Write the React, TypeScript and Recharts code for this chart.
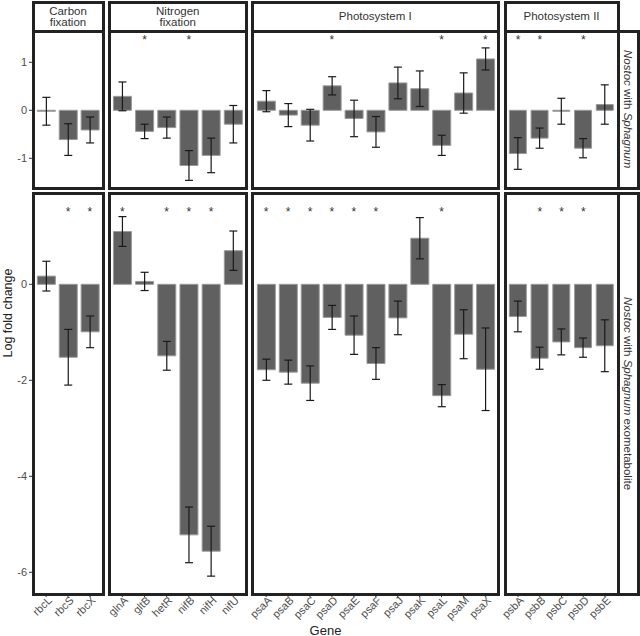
import React from "react";
import { ComposedChart, Bar, ErrorBar, Scatter, XAxis, YAxis } from "recharts";

// gene names per functional group
const carbonGenes = ["rbcL", "rbcS", "rbcX"];
const nitrogenGenes = ["glnA", "gltB", "hetR", "nifB", "nifH", "nifU"];
const ps1Genes = ["psaA", "psaB", "psaC", "psaD", "psaE", "psaF", "psaJ", "psaK", "psaL", "psaM", "psaX"];
const ps2Genes = ["psbA", "psbB", "psbC", "psbD", "psbE"];

// Nostoc with Sphagnum (top row)
const carbonSphagnum = [-0.02, -0.61, -0.41];
const carbonSphagnumErr = [0.29, 0.33, 0.27];
const nitrogenSphagnum = [0.29, -0.44, -0.36, -1.15, -0.94, -0.29];
const nitrogenSphagnumErr = [0.3, 0.15, 0.22, 0.31, 0.36, 0.39];
const ps1Sphagnum = [0.19, -0.1, -0.31, 0.51, -0.17, -0.45, 0.57, 0.45, -0.73, 0.36, 1.07];
const ps1SphagnumErr = [0.22, 0.24, 0.33, 0.19, 0.38, 0.32, 0.33, 0.37, 0.21, 0.42, 0.23];
const ps2Sphagnum = [-0.9, -0.58, -0.02, -0.79, 0.12];
const ps2SphagnumErr = [0.33, 0.21, 0.27, 0.2, 0.41];

// Nostoc with Sphagnum exometabolite (bottom row)
const carbonExo = [0.17, -1.52, -0.99];
const carbonExoErr = [0.31, 0.58, 0.33];
const nitrogenExo = [1.1, 0.06, -1.49, -5.22, -5.56, 0.7];
const nitrogenExoErr = [0.31, 0.19, 0.3, 0.58, 0.52, 0.41];
const ps1Exo = [-1.78, -1.83, -2.06, -0.69, -1.06, -1.65, -0.7, 0.96, -2.32, -1.04, -1.77];
const ps1ExoErr = [0.22, 0.25, 0.36, 0.25, 0.4, 0.33, 0.35, 0.43, 0.23, 0.51, 0.86];
const ps2Exo = [-0.67, -1.54, -1.2, -1.32, -1.28];
const ps2ExoErr = [0.32, 0.23, 0.27, 0.2, 0.54];

// significant genes (marked with *)
const sigSphagnum = ["gltB", "nifB", "psaD", "psaL", "psaX", "psbA", "psbB", "psbD"];
const sigExo = ["rbcS", "rbcX", "glnA", "hetR", "nifB", "nifH", "psaA", "psaB", "psaC", "psaD", "psaE", "psaF", "psaL", "psbB", "psbC", "psbD"];

const groupLabels = [["Carbon", "fixation"], ["Nitrogen", "fixation"], ["Photosystem I"], ["Photosystem II"]];

const yTicksTop = [-1, 0, 1];
const yTicksBottom = [-6, -4, -2, 0];

// layout
const FONT = '"Liberation Sans", Arial, sans-serif';
const PANEL_X: [number, number][] = [[33, 103], [109, 246.5], [252.5, 498], [505, 618]];
const ROW_Y: [number, number][] = [[31, 188], [193, 594]];
const ROW_DOMAIN: [number, number][] = [[-1.619, 1.652], [-6.452, 1.902]];
const ROW_TICKS = [yTicksTop, yTicksBottom];
const STAR_Y = [1.5, 1.55];
const STRIP_TOP = 2.5;
const RIGHT_STRIP_X = 638.5;
const BORDER = 3;

function GeneTick(props: any) {
  const { x, y, payload } = props;
  return (
    <text
      x={x}
      y={y}
      transform={`rotate(-45 ${x} ${y})`}
      textAnchor="end"
      fontSize={11}
      fontFamily={FONT}
      fill="#4d4d4d"
      dx={3}
      dy={6}
    >
      {payload.value}
    </text>
  );
}

function StarShape(props: any) {
  const { cx, cy, payload } = props;
  if (payload?.star == null || cx == null || cy == null) return <g />;
  return (
    <text x={cx} y={cy} dy={6} textAnchor="middle" fontSize={12} fontFamily={FONT} fill="#333">
      *
    </text>
  );
}

function Facet({
  row,
  col,
  genes,
  values,
  errors,
  sig,
}: {
  row: number;
  col: number;
  genes: string[];
  values: number[];
  errors: number[];
  sig: string[];
}) {
  const [x1, x2] = PANEL_X[col];
  const [y1, y2] = ROW_Y[row];
  const pw = x2 - x1;
  const ph = y2 - y1;
  const yW = col === 0 ? 40 : 0;
  // room on the left for rotated gene labels of other columns
  const extraLeft = col !== 0 && row === 1 ? 30 : 0;
  const xH = row === 1 ? 42 : 0;
  const unit = pw / (genes.length + 0.2);
  const data = genes.map((g, i) => ({
    gene: g,
    lfc: values[i],
    err: errors[i],
    star: sig.includes(g) ? STAR_Y[row] : null,
  }));

  return (
    <div style={{ position: "absolute", left: x1 - yW - extraLeft, top: y1 }}>
      <ComposedChart
        width={pw + yW + extraLeft}
        height={ph + xH}
        data={data}
        margin={{ top: 0, right: 0, bottom: 0, left: extraLeft }}
        barCategoryGap="10%"
      >
        <XAxis
          dataKey="gene"
          hide={row === 0}
          height={xH}
          padding={{ left: 0.1 * unit, right: 0.1 * unit }}
          axisLine={false}
          tickSize={3}
          tickLine={{ stroke: "#333" }}
          tick={<GeneTick />}
          interval={0}
        />
        <YAxis
          hide={col !== 0}
          width={yW}
          type="number"
          domain={ROW_DOMAIN[row]}
          ticks={ROW_TICKS[row]}
          allowDataOverflow
          axisLine={false}
          tickSize={4}
          tickMargin={2}
          tickLine={{ stroke: "#333" }}
          tick={{ fontSize: 11, fill: "#4d4d4d", fontFamily: FONT }}
        />
        <Bar dataKey="lfc" fill="#606060" stroke="#9a9a9a" strokeWidth={1} isAnimationActive={false}>
          <ErrorBar dataKey="err" width={4} stroke="#1a1a1a" strokeWidth={1.2} isAnimationActive={false} />
        </Bar>
        <Scatter dataKey="star" shape={StarShape} isAnimationActive={false} />
      </ComposedChart>
    </div>
  );
}

function Frame({ x1, y1, x2, y2 }: { x1: number; y1: number; x2: number; y2: number }) {
  return (
    <div
      style={{
        position: "absolute",
        left: x1 - BORDER / 2,
        top: y1 - BORDER / 2,
        width: x2 - x1 + BORDER,
        height: y2 - y1 + BORDER,
        border: `${BORDER}px solid #222`,
        boxSizing: "border-box",
        pointerEvents: "none",
      }}
    />
  );
}

export default function App() {
  const groups = [
    { genes: carbonGenes, top: carbonSphagnum, topErr: carbonSphagnumErr, bot: carbonExo, botErr: carbonExoErr },
    { genes: nitrogenGenes, top: nitrogenSphagnum, topErr: nitrogenSphagnumErr, bot: nitrogenExo, botErr: nitrogenExoErr },
    { genes: ps1Genes, top: ps1Sphagnum, topErr: ps1SphagnumErr, bot: ps1Exo, botErr: ps1ExoErr },
    { genes: ps2Genes, top: ps2Sphagnum, topErr: ps2SphagnumErr, bot: ps2Exo, botErr: ps2ExoErr },
  ];

  return (
    <div
      style={{
        position: "absolute",
        left: 0,
        top: 0,
        width: 640,
        height: 636,
        background: "#fff",
        fontFamily: FONT,
        overflow: "hidden",
      }}
    >
      {groups.map((g, c) => (
        <React.Fragment key={c}>
          <Facet row={0} col={c} genes={g.genes} values={g.top} errors={g.topErr} sig={sigSphagnum} />
          <Facet row={1} col={c} genes={g.genes} values={g.bot} errors={g.botErr} sig={sigExo} />
        </React.Fragment>
      ))}

      {/* group strips */}
      {groupLabels.map((lines, c) => {
        const [x1, x2] = PANEL_X[c];
        return (
          <div
            key={`strip-${c}`}
            style={{
              position: "absolute",
              left: x1,
              top: STRIP_TOP,
              width: x2 - x1,
              height: ROW_Y[0][0] - STRIP_TOP,
              display: "flex",
              flexDirection: "column",
              alignItems: "center",
              justifyContent: "center",
              fontSize: 11.5,
              lineHeight: "11px",
              color: "#333",
            }}
          >
            {lines.map((l) => (
              <span key={l}>{l}</span>
            ))}
          </div>
        );
      })}

      {/* row strips */}
      {[
        <>
          <i>Nostoc</i> with <i>Sphagnum</i>
        </>,
        <>
          <i>Nostoc</i> with <i>Sphagnum</i> exometabolite
        </>,
      ].map((label, r) => (
        <div
          key={`rstrip-${r}`}
          style={{
            position: "absolute",
            left: PANEL_X[3][1],
            top: ROW_Y[r][0],
            width: RIGHT_STRIP_X - PANEL_X[3][1],
            height: ROW_Y[r][1] - ROW_Y[r][0],
            display: "flex",
            alignItems: "center",
            justifyContent: "center",
            writingMode: "vertical-rl",
            fontSize: 11.5,
            color: "#333",
            whiteSpace: "nowrap",
          }}
        >
          <span>{label}</span>
        </div>
      ))}

      {/* frames */}
      {PANEL_X.map(([x1, x2], c) => (
        <React.Fragment key={`f-${c}`}>
          <Frame x1={x1} y1={STRIP_TOP} x2={x2} y2={ROW_Y[0][0]} />
          <Frame x1={x1} y1={ROW_Y[0][0]} x2={x2} y2={ROW_Y[0][1]} />
          <Frame x1={x1} y1={ROW_Y[1][0]} x2={x2} y2={ROW_Y[1][1]} />
        </React.Fragment>
      ))}
      {ROW_Y.map(([y1, y2], r) => (
        <Frame key={`rf-${r}`} x1={PANEL_X[3][1]} y1={y1} x2={RIGHT_STRIP_X} y2={y2} />
      ))}

      {/* axis titles */}
      <div
        style={{
          position: "absolute",
          left: 8,
          top: (ROW_Y[0][0] + ROW_Y[1][1]) / 2,
          transform: "translate(-50%, -50%) rotate(-90deg)",
          fontSize: 12.5,
          color: "#222",
          whiteSpace: "nowrap",
        }}
      >
        Log fold change
      </div>
      <div
        style={{
          position: "absolute",
          left: (PANEL_X[0][0] + PANEL_X[3][1]) / 2,
          top: 630,
          transform: "translate(-50%, -50%)",
          fontSize: 13,
          color: "#222",
          whiteSpace: "nowrap",
        }}
      >
        Gene
      </div>
    </div>
  );
}
